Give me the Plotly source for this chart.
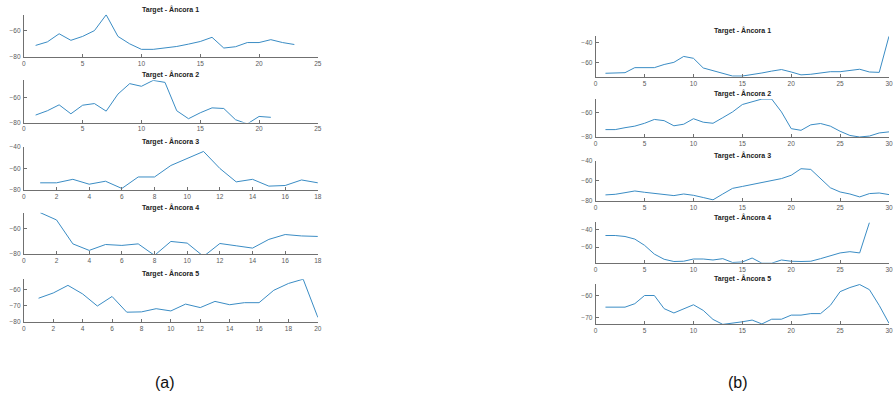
import plotly.graph_objects as go

# ---------------- data ----------------
titles = ["Target - Âncora 1", "Target - Âncora 2", "Target - Âncora 3",
          "Target - Âncora 4", "Target - Âncora 5"]
panel_labels = ["(a)", "(b)"]

# (a) left column
a1 = [-71.1, -68.4, -62.2, -67.2, -64.2, -59.8, -47.7, -64.2, -69.9, -74.1, -74.1, -73.1,
      -71.9, -70.1, -68.1, -64.9, -73.1, -72.1, -68.9, -68.9, -66.7, -68.9, -70.4]
a2 = [-74.0, -70.6, -65.9, -73.0, -66.2, -64.9, -70.9, -57.4, -49.1, -51.2, -46.5, -48.1,
      -70.6, -76.9, -72.2, -68.3, -68.8, -77.7, -81.0, -75.1, -75.8]
a3 = [-73.5, -73.5, -70.2, -74.8, -72.0, -78.8, -68.0, -68.0, -57.2, -50.5, -44.0, -60.0,
      -72.6, -70.2, -76.6, -76.0, -70.8, -73.5]
a4 = [-47.6, -53.3, -72.0, -77.1, -72.5, -73.2, -72.0, -81.0, -70.1, -71.4, -81.8, -71.7,
      -73.5, -75.3, -68.5, -64.7, -65.8, -66.2]
a5 = [-65.2, -61.9, -57.1, -62.5, -70.1, -64.1, -74.0, -73.8, -71.8, -73.2, -68.9, -71.1,
      -67.2, -69.3, -68.0, -68.0, -60.2, -55.9, -53.2, -77.3]

# (b) right column
b1 = [-71.1, -71.1, -70.5, -65.4, -65.1, -65.4, -62.2, -60.0, -54.0, -55.9, -65.7, -68.6,
      -71.7, -73.9, -73.9, -72.7, -70.8, -68.9, -67.3, -69.8, -72.7, -72.1, -70.8, -69.5,
      -69.5, -68.3, -67.0, -69.8, -70.2, -33.4]
b2 = [-74.0, -74.0, -72.4, -71.1, -68.7, -65.5, -66.5, -70.8, -69.5, -64.9, -67.8, -68.7,
      -64.0, -59.2, -53.0, -50.5, -48.4, -48.4, -59.2, -73.2, -74.6, -70.0, -68.9, -71.1,
      -75.4, -78.9, -80.2, -79.4, -76.8, -75.9]
b3 = [-74.1, -73.5, -71.9, -70.2, -71.5, -72.5, -73.5, -74.8, -73.2, -74.5, -76.7, -79.0,
      -73.2, -67.6, -65.7, -63.7, -61.8, -59.8, -57.9, -54.6, -48.1, -48.8, -57.6, -67.0,
      -71.2, -73.2, -76.1, -72.8, -72.2, -73.8]
b4 = [-47.0, -47.0, -48.1, -51.0, -58.0, -67.8, -73.6, -76.1, -75.8, -73.3, -73.3, -74.4,
      -72.9, -77.2, -76.6, -72.2, -78.0, -78.0, -74.4, -75.8, -76.1, -75.8, -72.9, -69.8,
      -66.5, -65.1, -66.5, -32.4]
b5 = [-65.2, -65.2, -65.2, -63.6, -59.8, -59.8, -65.9, -67.9, -66.1, -64.1, -66.7, -70.9,
      -73.2, -72.7, -72.0, -71.2, -73.0, -70.8, -70.8, -68.9, -68.9, -68.2, -68.2, -64.4,
      -58.0, -56.1, -54.7, -57.1, -64.4, -72.7]

left_series = [a1, a2, a3, a4, a5]
right_series = [b1, b2, b3, b4, b5]

left_xmax = [25, 25, 18, 18, 20]
left_xdtick = [5, 5, 2, 2, 2]
left_yrange = [[-80, -47.7], [-80, -46.5], [-80, -40], [-80, -47.6], [-80, -53.2]]
left_ydtick = [20, 20, 20, 20, 10]

right_xmax = [30, 30, 30, 30, 30]
right_xdtick = [5, 5, 5, 5, 5]
right_yrange = [[-74.6, -33.4], [-80.5, -48.4], [-80, -40], [-77.5, -32.4], [-73.2, -54.5]]
right_ydtick = [20, 20, 20, 20, 10]

# ---------------- layout geometry (pixels) ----------------
W, H = 893, 406
left_x = (22, 318)
right_x = (597.7, 893)
left_y = [(11, 54), (77.7, 120.7), (145.7, 189), (212.3, 254.5), (280, 323.3)]
right_y = [(32.7, 74), (96.7, 135.7), (159.3, 200.3), (222.3, 263.3), (285, 326)]

LINE = "#3a8cc4"
AX = "#707070"
TICKFONT = dict(family="Liberation Sans, Arial, sans-serif", size=6.5, color="#5a5a5a")

fig = go.Figure()
annotations = []
idx = 0


def add_panel(series, xmax, xdtick, yrange, ydtick, xpix, ypix, title, title_cx):
    global idx
    idx += 1
    xa = "x" if idx == 1 else f"x{idx}"
    ya = "y" if idx == 1 else f"y{idx}"
    xs = list(range(1, len(series) + 1))
    fig.add_trace(go.Scatter(x=xs, y=series, mode="lines",
                             line=dict(color=LINE, width=1),
                             xaxis=xa, yaxis=ya, showlegend=False,
                             hoverinfo="skip"))
    xd = [xpix[0] / W, min(xpix[1] / W, 1.0)]
    yd = [1 - ypix[1] / H, 1 - ypix[0] / H]
    axkey = "xaxis" if idx == 1 else f"xaxis{idx}"
    aykey = "yaxis" if idx == 1 else f"yaxis{idx}"
    fig.layout[axkey] = dict(domain=xd, range=[0, xmax], dtick=xdtick, tick0=0,
                             anchor=ya, showline=True, linecolor=AX, linewidth=1,
                             ticks="inside", ticklen=3, tickcolor=AX,
                             showgrid=False, zeroline=False, tickfont=TICKFONT,
                             ticklabeloverflow="allow", fixedrange=True)
    fig.layout[aykey] = dict(domain=yd, range=yrange, dtick=ydtick, tick0=0,
                             anchor=xa, showline=True, linecolor=AX, linewidth=1,
                             ticks="inside", ticklen=3, tickcolor=AX,
                             showgrid=False, zeroline=False, tickfont=TICKFONT,
                             ticklabelstandoff=1, fixedrange=True)
    annotations.append(dict(text=f"<b>{title}</b>", xref="paper", yref="paper",
                            x=title_cx / W,
                            y=1 - (ypix[0] - 5.5) / H,
                            xanchor="center", yanchor="middle", showarrow=False,
                            font=dict(family="Liberation Sans, Arial, sans-serif",
                                      size=7, color="#222222")))


for i in range(5):
    add_panel(left_series[i], left_xmax[i], left_xdtick[i], left_yrange[i],
              left_ydtick[i], left_x, left_y[i], titles[i], 170)
for i in range(5):
    add_panel(right_series[i], right_xmax[i], right_xdtick[i], right_yrange[i],
              right_ydtick[i], right_x, right_y[i], titles[i], 746)

for lab, px in zip(panel_labels, [164, 741]):
    annotations.append(dict(text=lab, xref="paper", yref="paper", x=px / W,
                            y=1 - 385 / H, xanchor="center", yanchor="middle",
                            showarrow=False,
                            font=dict(family="Liberation Sans, Arial, sans-serif",
                                      size=16, color="#111111")))

fig.update_layout(width=W, height=H, margin=dict(l=0, r=0, t=0, b=0),
                  paper_bgcolor="white", plot_bgcolor="white",
                  annotations=annotations, showlegend=False)

fig.write_html("out.html", config={"displayModeBar": False},
               post_script="document.body.style.margin='0px';document.body.style.overflow='hidden';")
